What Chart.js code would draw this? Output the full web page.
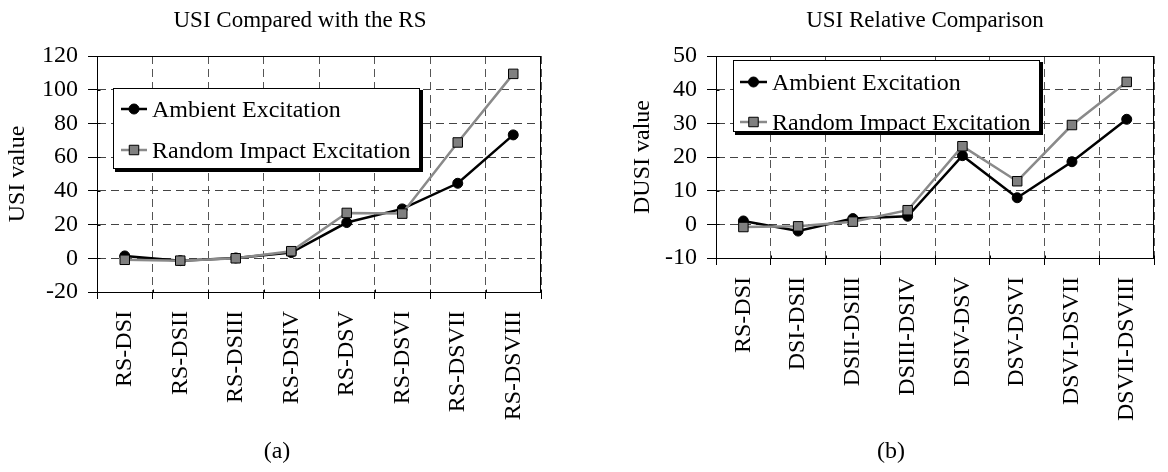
<!DOCTYPE html>
<html>
<head>
<meta charset="utf-8">
<script src="https://cdn.jsdelivr.net/npm/chart.js@4.4.1/dist/chart.umd.min.js"></script>
<style>
    html, body { margin: 0; padding: 0; background: #fff; }
    #wrap { position: relative; width: 1168px; height: 472px; }
    .panel { position: absolute; top: 0; width: 584px; height: 472px; }
</style>
</head>
<body>
<div id="wrap">
    <div class="panel" style="left:0"><canvas id="chartA" width="584" height="472"></canvas></div>
    <div class="panel" style="left:584px"><canvas id="chartB" width="584" height="472"></canvas></div>
</div>
<script>
// chart (a) data
const labelsA = ['RS-DSI', 'RS-DSII', 'RS-DSIII', 'RS-DSIV', 'RS-DSV', 'RS-DSVI', 'RS-DSVII', 'RS-DSVIII'];
const ambientA = [1.4, -1.4, 0.2, 3.4, 21.2, 29.3, 44.5, 73.2];
const impactA = [-0.9, -1.4, 0, 4.2, 26.9, 26.5, 68.7, 109.4];
const yTicksA = [-20, 0, 20, 40, 60, 80, 100, 120];

// chart (b) data
const labelsB = ['RS-DSI', 'DSI-DSII', 'DSII-DSIII', 'DSIII-DSIV', 'DSIV-DSV', 'DSV-DSVI', 'DSVI-DSVII', 'DSVII-DSVIII'];
const ambientB = [1.0, -2.0, 1.7, 2.4, 20.4, 7.9, 18.6, 31.2];
const impactB = [-0.8, -0.6, 0.8, 4.2, 23.2, 12.8, 29.5, 42.3];
const yTicksB = [-10, 0, 10, 20, 30, 40, 50];

const seriesNames = ['Ambient Excitation', 'Random Impact Excitation'];

const FONT = '"Liberation Serif", "Times New Roman", serif';

// titles, captions, framed legend with shadow, plot border
const panelDecor = {
    id: 'panelDecor',
    afterDraw(chart, args, opts) {
        const ctx = chart.ctx;
        const area = chart.chartArea;
        const xs = chart.scales.x, ys = chart.scales.y;
        ctx.save();

        // plot frame
        ctx.strokeStyle = '#000';
        ctx.lineWidth = 1;
        ctx.setLineDash([]);
        const l = Math.round(area.left) + 0.5, t = Math.round(area.top) + 0.5;
        const r = Math.round(area.right) - 0.5, b = Math.round(area.bottom) + 0.5;
        ctx.strokeRect(l, t, r - l, b - t);

        // inner part of the crossing tick marks
        ctx.beginPath();
        const n = chart.data.labels.length;
        for (let i = 0; i <= n; i++) {
            const px = Math.round(xs.getPixelForValue(i - 0.5)) + 0.5;
            ctx.moveTo(px, b);
            ctx.lineTo(px, b - 3);
        }
        ys.ticks.forEach(function (tk) {
            const py = Math.round(ys.getPixelForValue(tk.value)) + 0.5;
            ctx.moveTo(l, py);
            ctx.lineTo(l + 3, py);
        });
        ctx.stroke();

        // title + caption
        ctx.fillStyle = '#000';
        ctx.textAlign = 'center';
        ctx.textBaseline = 'alphabetic';
        ctx.font = '23px ' + FONT;
        ctx.fillText(opts.title, opts.titleX, 27);
        ctx.font = '24px ' + FONT;
        ctx.fillText(opts.caption, opts.captionX, 458);

        // legend box
        const box = opts.legend;
        ctx.fillStyle = '#000';
        ctx.fillRect(box.x + 2, box.y + 2, box.w + 1, box.h + 1);
        ctx.fillStyle = '#fff';
        ctx.fillRect(box.x, box.y, box.w, box.h);
        ctx.strokeStyle = '#000';
        ctx.strokeRect(box.x + 0.5, box.y + 0.5, box.w - 1, box.h - 1);

        chart.data.datasets.forEach(function (ds, i) {
            const y = box.rows[i];
            ctx.strokeStyle = ds.borderColor;
            ctx.lineWidth = ds.borderWidth;
            ctx.beginPath();
            ctx.moveTo(box.sx1, y);
            ctx.lineTo(box.sx2, y);
            ctx.stroke();

            ctx.fillStyle = ds.pointBackgroundColor;
            ctx.strokeStyle = ds.pointBorderColor;
            ctx.lineWidth = ds.pointBorderWidth;
            Chart.helpers.drawPoint(ctx, {
                pointStyle: ds.pointStyle,
                radius: ds.pointRadius,
                borderWidth: ds.pointBorderWidth,
                rotation: 0
            }, (box.sx1 + box.sx2) / 2, y);

            ctx.fillStyle = '#000';
            ctx.textAlign = 'left';
            ctx.font = '24px ' + FONT;
            ctx.fillText(ds.label, box.tx, y + 7.5);
        });

        ctx.restore();
    }
};

function makeDatasets(ambient, impact) {
    return [{
        label: seriesNames[0],
        data: ambient,
        borderColor: '#000',
        borderWidth: 2.5,
        pointStyle: 'circle',
        pointRadius: 5,
        pointBackgroundColor: '#000',
        pointBorderColor: '#000',
        pointBorderWidth: 1,
        tension: 0,
        order: 1
    }, {
        label: seriesNames[1],
        data: impact,
        borderColor: '#8a8a8a',
        borderWidth: 2.5,
        pointStyle: 'rect',
        pointRadius: 6.7,
        pointBackgroundColor: '#808080',
        pointBorderColor: '#000',
        pointBorderWidth: 1,
        tension: 0,
        order: 0
    }];
}

function makeScales(yTicks, yTitle, yWidth, yTitlePad, xHeight) {
    return {
        x: {
            type: 'category',
            offset: true,
            grid: {
                offset: true,
                color: '#555',
                lineWidth: 1,
                drawTicks: true,
                tickLength: 7,
                tickColor: '#000',
                tickWidth: 1,
                tickBorderDash: []
            },
            border: { display: true, color: '#000', width: 1, dash: [8, 5] },
            ticks: {
                autoSkip: false,
                minRotation: 90,
                maxRotation: 90,
                padding: 12,
                color: '#000',
                font: { family: FONT, size: 24 }
            },
            afterFit: function (scale) { scale.height = xHeight; }
        },
        y: {
            min: yTicks[0],
            max: yTicks[yTicks.length - 1],
            grid: {
                color: '#444',
                lineWidth: 1,
                drawTicks: true,
                tickLength: 9,
                tickColor: '#000',
                tickWidth: 1,
                tickBorderDash: []
            },
            border: { display: true, color: '#000', width: 1, dash: [8, 5] },
            ticks: {
                stepSize: yTicks[1] - yTicks[0],
                padding: 10,
                color: '#000',
                font: { family: FONT, size: 24 }
            },
            title: {
                display: true,
                text: yTitle,
                color: '#000',
                padding: { top: yTitlePad, bottom: 0 },
                font: { family: FONT, size: 24 }
            },
            afterFit: function (scale) { scale.width = yWidth; }
        }
    };
}

document.addEventListener("DOMContentLoaded", function () {

    // =========================
    // CHART A - USI vs RS
    // =========================
    const ctxA = document.getElementById("chartA");

    if (ctxA) {
        new Chart(ctxA, {
            type: 'line',
            data: {
                labels: labelsA,
                datasets: makeDatasets(ambientA, impactA)
            },
            options: {
                responsive: false,
                animation: false,
                events: [],
                layout: { padding: { top: 56, right: 43, left: 0, bottom: 0 } },
                scales: makeScales(yTicksA, 'USI value', 97, 3, 180),
                plugins: {
                    legend: { display: false },
                    tooltip: { enabled: false },
                    panelDecor: {
                        title: 'USI Compared with the RS',
                        titleX: 300,
                        caption: '(a)',
                        captionX: 277,
                        legend: { x: 113, y: 88, w: 307, h: 81, rows: [109, 150], sx1: 121, sx2: 147, tx: 152 }
                    }
                }
            },
            plugins: [panelDecor]
        });
    }

    // =========================
    // CHART B - RELATIVE
    // =========================
    const ctxB = document.getElementById("chartB");

    if (ctxB) {
        new Chart(ctxB, {
            type: 'line',
            data: {
                labels: labelsB,
                datasets: makeDatasets(ambientB, impactB)
            },
            options: {
                responsive: false,
                animation: false,
                events: [],
                layout: { padding: { top: 56, right: 1, left: 0, bottom: 0 } },
                scales: makeScales(yTicksB, 'DUSI value', 132, 44, 214),
                plugins: {
                    legend: { display: false },
                    tooltip: { enabled: false },
                    panelDecor: {
                        title: 'USI Relative Comparison',
                        titleX: 341,
                        caption: '(b)',
                        captionX: 307,
                        legend: { x: 149, y: 60, w: 307, h: 72, rows: [82, 122], sx1: 156, sx2: 183, tx: 188 }
                    }
                }
            },
            plugins: [panelDecor]
        });
    }

});
</script>
</body>
</html>
